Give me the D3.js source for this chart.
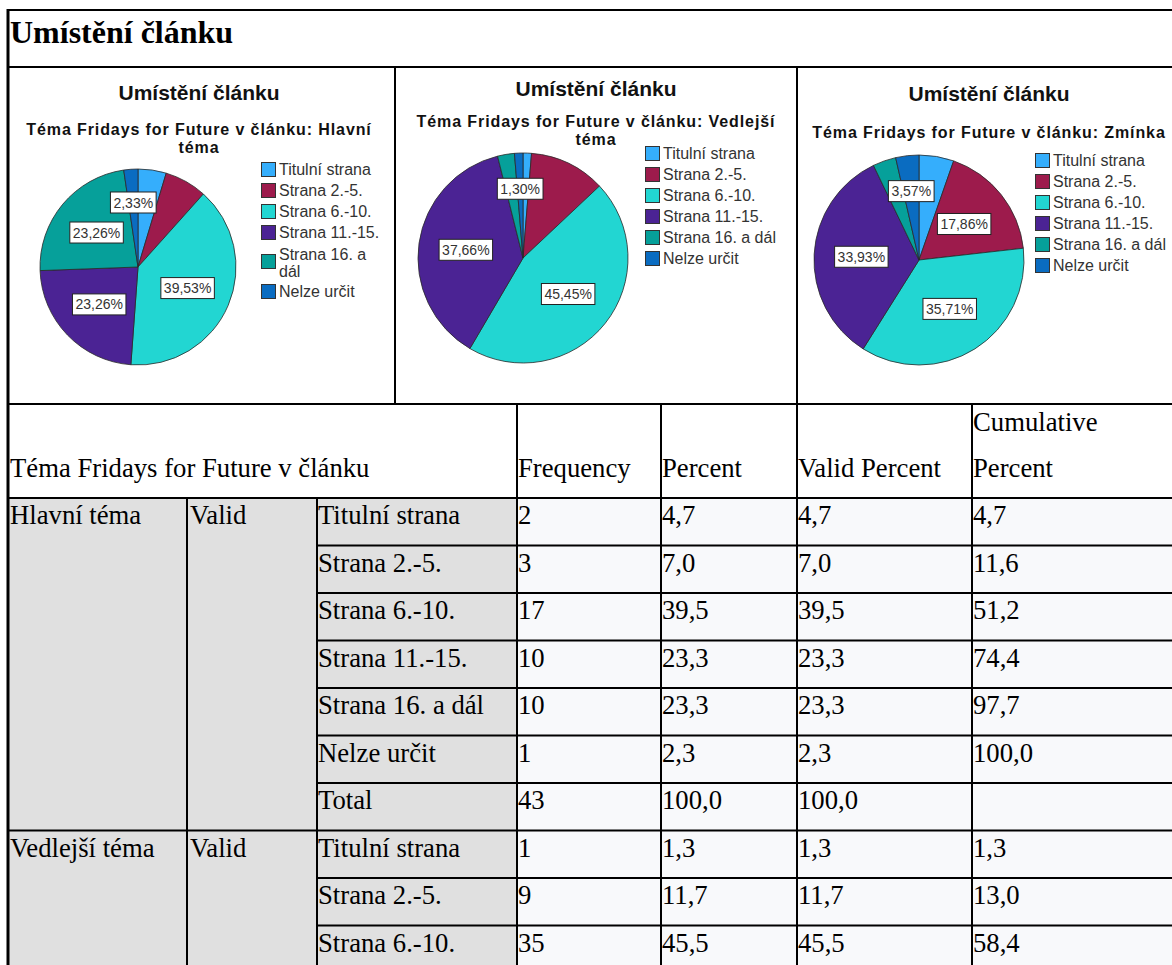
<!DOCTYPE html>
<html>
<head>
<meta charset="utf-8">
<script src="https://cdn.jsdelivr.net/npm/d3@7"></script>
<style>
  html, body { margin: 0; padding: 0; background: #ffffff; }
  svg { display: block; }
</style>
</head>
<body>
<svg id="chart" width="1172" height="965"></svg>
<script>
// ---------------- DATA ----------------
const mainTitle = "Umístění článku";
const chartTitle = "Umístění článku";
const categories = ["Titulní strana", "Strana 2.-5.", "Strana 6.-10.", "Strana 11.-15.", "Strana 16. a dál", "Nelze určit"];
const sliceColors = ["#35aefc", "#9d1b4c", "#22d6d2", "#4b2394", "#06a09a", "#0a6cc1"];

const panelSubtitles = [
  ["Téma Fridays for Future v článku: Hlavní", "téma"],
  ["Téma Fridays for Future v článku: Vedlejší", "téma"],
  ["Téma Fridays for Future v článku: Zmínka"]
];
const hlavniCounts   = [2, 3, 17, 10, 10, 1];
const vedlejsiCounts = [1, 9, 35, 29, 2, 1];
const zminkaCounts   = [3, 10, 20, 19, 2, 2];
const hlavniLabeled   = [false, false, true, true, true, true];
const vedlejsiLabeled = [false, false, true, true, false, true];
const zminkaLabeled   = [false, true, true, true, false, true];

const tableHeaderLabel = "Téma Fridays for Future v článku";
const tableColumns = ["Frequency", "Percent", "Valid Percent", ["Cumulative", "Percent"]];
const groupNames = ["Hlavní téma", "Vedlejší téma"];
const validLabel = "Valid";
const hlavniRowLabels = ["Titulní strana", "Strana 2.-5.", "Strana 6.-10.", "Strana 11.-15.", "Strana 16. a dál", "Nelze určit", "Total"];
const hlavniFreq      = [2, 3, 17, 10, 10, 1, 43];
const hlavniPercent   = [4.7, 7.0, 39.5, 23.3, 23.3, 2.3, 100.0];
const hlavniValid     = [4.7, 7.0, 39.5, 23.3, 23.3, 2.3, 100.0];
const hlavniCumul     = [4.7, 11.6, 51.2, 74.4, 97.7, 100.0, null];
const vedlejsiRowLabels = ["Titulní strana", "Strana 2.-5.", "Strana 6.-10."];
const vedlejsiFreq      = [1, 9, 35];
const vedlejsiPercent   = [1.3, 11.7, 45.5];
const vedlejsiValid     = [1.3, 11.7, 45.5];
const vedlejsiCumul     = [1.3, 13.0, 58.4];

// ---------------- LAYOUT ----------------
const W = 1172, H = 965;
const svg = d3.select("#chart");
const sansFont = "'Liberation Sans', Arial, sans-serif";
const serifFont = "'Liberation Serif', 'Times New Roman', serif";
const tableFontSize = 26.7;

const frameLeft = 8, frameTop = 10, titleLineY = 67, panelBottom = 404;
const panelX = [frameLeft, 395, 797, 1190];
const colX = [frameLeft, 187, 317, 517, 661, 797, 972, 1190];
const headerBottom = 498, rowH = 47.5;
const groupSpan = 7;

const panels = [
  {counts: hlavniCounts, labeled: hlavniLabeled, cx: 138, cy: 267, r: 98, titleX: 199, titleY: 100, subY: 135,
   legX: 261, legY: 162, legMax: 110},
  {counts: vedlejsiCounts, labeled: vedlejsiLabeled, cx: 523, cy: 258, r: 105, titleX: 596, titleY: 96, subY: 127,
   legX: 645, legY: 146, legMax: 200},
  {counts: zminkaCounts, labeled: zminkaLabeled, cx: 919, cy: 260, r: 105, titleX: 989, titleY: 101, subY: 138,
   legX: 1035, legY: 153, legMax: 200}
];

// ---------------- TABLE ----------------
const gTable = svg.append("g");
const rowsTopHl = headerBottom;
const rowsTopVd = headerBottom + rowH * groupSpan;
const fmt = v => v === null ? "" : d3.format(".1f")(v).replace(".", ",");

function drawGroup(y0, name, labels, freq, pct, valid, cumul) {
  gTable.append("rect").attr("x", colX[0]).attr("y", y0).attr("width", colX[2] - colX[0])
    .attr("height", rowH * groupSpan).attr("fill", "#e0e0e0");
  for (let i = 0; i < groupSpan; i++) {
    const y = y0 + i * rowH;
    gTable.append("rect").attr("x", colX[2]).attr("y", y).attr("width", colX[3] - colX[2])
      .attr("height", rowH).attr("fill", "#e0e0e0");
    gTable.append("rect").attr("x", colX[3]).attr("y", y).attr("width", W - colX[3])
      .attr("height", rowH).attr("fill", "#f8f9fb");
  }
  const tx = (x, y, t) => gTable.append("text").attr("x", x).attr("y", y).text(t)
    .attr("font-family", serifFont).attr("font-size", tableFontSize).attr("fill", "#000");
  tx(colX[0] + 2, y0 + 26, name);
  tx(colX[1] + 3, y0 + 26, validLabel);
  labels.forEach((lab, i) => {
    const y = y0 + i * rowH + 26;
    tx(colX[2] + 1, y, lab);
    tx(colX[3] + 1, y, String(freq[i]));
    tx(colX[4] + 1, y, fmt(pct[i]));
    tx(colX[5] + 1, y, fmt(valid[i]));
    tx(colX[6] + 1, y, fmt(cumul[i]));
  });
  for (let i = 1; i < groupSpan; i++) {
    const y = y0 + i * rowH;
    gTable.append("line").attr("x1", colX[2]).attr("x2", W).attr("y1", y).attr("y2", y)
      .attr("stroke", "#000").attr("stroke-width", 2);
  }
  gTable.append("line").attr("x1", colX[0]).attr("x2", W).attr("y1", y0).attr("y2", y0)
    .attr("stroke", "#000").attr("stroke-width", 2);
}
drawGroup(rowsTopHl, groupNames[0], hlavniRowLabels, hlavniFreq, hlavniPercent, hlavniValid, hlavniCumul);
drawGroup(rowsTopVd, groupNames[1], vedlejsiRowLabels, vedlejsiFreq, vedlejsiPercent, vedlejsiValid, vedlejsiCumul);

const hdrFont = (sel) => sel.attr("font-family", serifFont).attr("font-size", tableFontSize).attr("fill", "#000");
hdrFont(gTable.append("text").attr("x", colX[0] + 2).attr("y", 477).text(tableHeaderLabel));
tableColumns.forEach((c, i) => {
  const x = colX[3 + i] + 1;
  if (Array.isArray(c)) {
    hdrFont(gTable.append("text").attr("x", x).attr("y", 431).text(c[0]));
    hdrFont(gTable.append("text").attr("x", x).attr("y", 477).text(c[1]));
  } else {
    hdrFont(gTable.append("text").attr("x", x).attr("y", 477).text(c));
  }
});

const vline = (x, y1, y2, w) => svg.append("line").attr("x1", x).attr("x2", x).attr("y1", y1).attr("y2", y2)
  .attr("stroke", "#000").attr("stroke-width", w || 2);
[colX[1], colX[2]].forEach(x => vline(x, headerBottom, H));
[colX[3], colX[4], colX[5], colX[6]].forEach(x => vline(x, panelBottom, H));

// ---------------- MAIN TITLE & FRAME ----------------
svg.append("text").attr("x", frameLeft + 2).attr("y", 43).text(mainTitle)
  .attr("font-family", serifFont).attr("font-size", 32).attr("font-weight", "bold").attr("fill", "#000");
const hline = (y, x1, x2, w) => svg.append("line").attr("x1", x1).attr("x2", x2).attr("y1", y).attr("y2", y)
  .attr("stroke", "#000").attr("stroke-width", w || 2);
hline(frameTop, frameLeft, W);
hline(titleLineY, frameLeft, W);
hline(panelBottom, frameLeft, W);
hline(headerBottom, frameLeft, W);
vline(frameLeft, frameTop - 1, H, 3);
vline(panelX[1], titleLineY, panelBottom);
vline(panelX[2], titleLineY, panelBottom);

// ---------------- PIES ----------------
const pie = d3.pie().sort(null).value(d => d);
panels.forEach((p, pi) => {
  const g = svg.append("g");
  g.append("text").attr("x", p.titleX).attr("y", p.titleY).attr("text-anchor", "middle").text(chartTitle)
    .attr("font-family", sansFont).attr("font-size", 21).attr("font-weight", "bold").attr("fill", "#111");
  panelSubtitles[pi].forEach((line, li) => {
    g.append("text").attr("x", p.titleX).attr("y", p.subY + li * 18).attr("text-anchor", "middle").text(line)
      .attr("font-family", sansFont).attr("font-size", 16).attr("letter-spacing", 0.9)
      .attr("font-weight", "bold").attr("fill", "#111");
  });
  const total = d3.sum(p.counts);
  const arcs = pie(p.counts);
  const arc = d3.arc().innerRadius(0).outerRadius(p.r);
  const pg = g.append("g").attr("transform", `translate(${p.cx},${p.cy})`);
  pg.selectAll("path").data(arcs).join("path")
    .attr("d", arc)
    .attr("fill", (d, i) => sliceColors[i])
    .attr("stroke", "#2a2a2a").attr("stroke-width", 0.8);
  arcs.forEach((d, i) => {
    if (!p.labeled[i]) return;
    const frac = d.value / total;
    const lr = frac < 0.05 ? p.r * 0.66 : p.r * 0.55;
    const c = d3.arc().innerRadius(lr).outerRadius(lr).centroid(d);
    const txt = d3.format(".2f")(frac * 100).replace(".", ",") + "%";
    const t = pg.append("text").attr("x", c[0]).attr("y", c[1] + 5).attr("text-anchor", "middle").text(txt)
      .attr("font-family", sansFont).attr("font-size", 14).attr("fill", "#333");
    const bw = t.node().getComputedTextLength() + 6;
    pg.insert("rect", "text").attr("x", c[0] - bw / 2).attr("y", c[1] - 10.5).attr("width", bw).attr("height", 21)
      .attr("fill", "#fff").attr("stroke", "#222").attr("stroke-width", 1);
  });
  let y = p.legY;
  categories.forEach((cat, i) => {
    const words = cat.split(" ");
    const lines = [];
    let cur = "";
    const probe = g.append("text").attr("font-family", sansFont).attr("font-size", 16);
    words.forEach(w => {
      const test = cur ? cur + " " + w : w;
      probe.text(test);
      if (probe.node().getComputedTextLength() > p.legMax && cur) { lines.push(cur); cur = w; }
      else cur = test;
    });
    lines.push(cur);
    probe.remove();
    const wrapped = lines.length > 1;
    const swTop = wrapped ? y + 8 : y;
    g.append("rect").attr("x", p.legX + 0.5).attr("y", swTop + 0.5).attr("width", 14).attr("height", 14)
      .attr("fill", sliceColors[i]).attr("stroke", "#333").attr("stroke-width", 1);
    lines.forEach((ln, li) => {
      g.append("text").attr("x", p.legX + 18).attr("y", y + (wrapped ? 14 : 13) + li * 17).text(ln)
        .attr("font-family", sansFont).attr("font-size", 16).attr("fill", "#333");
    });
    y += 21 + (lines.length - 1) * 17;
  });
});
</script>
</body>
</html>
